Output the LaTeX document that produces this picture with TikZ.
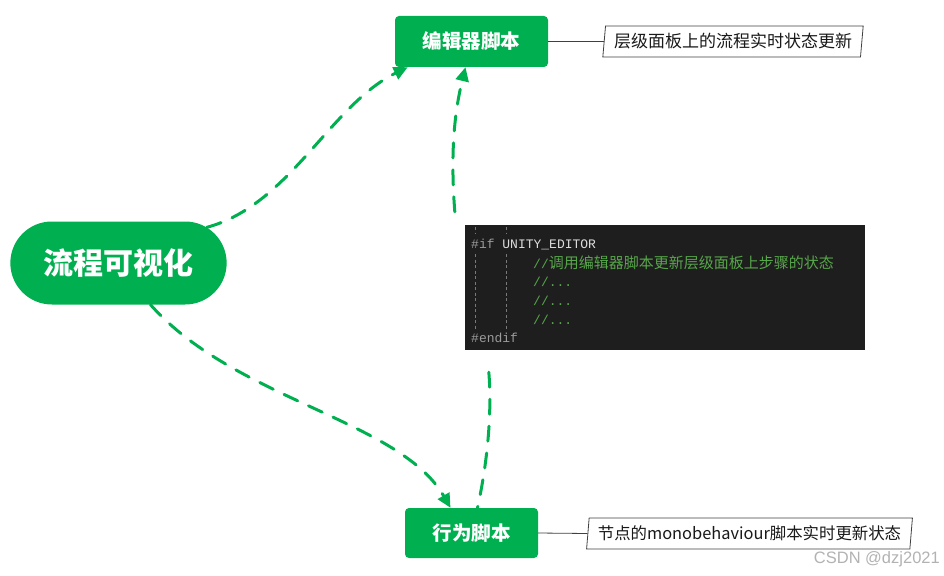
\documentclass[tikz,border=0pt]{standalone}
\usepackage{fontspec}
\usepackage{tikz}
\usetikzlibrary{arrows.meta,shapes.misc,shapes.geometric}
\newfontfamily\cjk{Noto Sans CJK SC}
\newfontfamily\monofnt{Liberation Mono}
\newfontfamily\markfnt{Liberation Sans}
\definecolor{mapgreen}{HTML}{00B050}
\definecolor{edge}{HTML}{404040}
\definecolor{codebg}{HTML}{1E1E1E}
\definecolor{kwgray}{HTML}{9B9B9B}
\definecolor{symwhite}{HTML}{DCDCDC}
\definecolor{cmtgreen}{HTML}{57A64A}
\definecolor{guidegray}{HTML}{7A7A7A}
\newcommand{\fsz}[1]{\fontsize{#1}{#1}\selectfont}
\tikzset{
  topic/.style  = {rounded rectangle, fill=mapgreen, text=white, font=\cjk\bfseries\fsz{30}},
  sub/.style    = {rectangle, rounded corners=4pt, fill=mapgreen, text=white, font=\cjk\bfseries\fsz{19.5}},
  tag/.style    = {trapezium, trapezium left angle=81, trapezium right angle=99, trapezium stretches=true,
                   draw=edge, line width=0.8pt, fill=white, minimum height=31pt, font=\cjk\fsz{17},
                   text=black!90, inner sep=0pt},
  link/.style   = {dash pattern=on 15pt off 12pt, line width=3pt, draw=mapgreen, line cap=round},
  tip/.style    = {-{Triangle[length=14pt,width=13pt]}},
  tie/.style    = {line width=0.8pt, draw=edge},
  codeln/.style = {anchor=west, inner sep=0pt, font=\monofnt\fsz{13}},
  guide/.style  = {draw=guidegray, line width=0.8pt, dash pattern=on 3pt off 2.5pt},
}

\begin{document}
\begin{tikzpicture}[x=1pt, y=-1pt]
  \useasboundingbox (0,0) rectangle (944,575);

  %% ---------------- topics ------------------------------------------
  \node[topic, minimum width=223pt, minimum height=83pt] (core) at (118.5,263) {流程可视化};
  \node[sub, minimum width=153pt, minimum height=51pt] (editor) at (471.5,41.5) {编辑器脚本};
  \node[sub, minimum width=133pt, minimum height=50pt] (behav) at (471.5,533) {行为脚本};

  %% ---------------- notes -------------------------------------------
  \node[tag, minimum width=261pt] (ednote) at (733,41.5) {层级面板上的流程实时状态更新};
  \node[tag, minimum width=327pt, font=\cjk\fsz{16.4}] (bhnote) at (749.5,533.5) {节点的monobehaviour脚本实时更新状态};
  \draw[tie] (editor.east) -- (ednote.west);
  \draw[tie] (behav.east) -- (bhnote.west);

  %% ---------------- code snippet ------------------------------------
  \node[fill=codebg, minimum width=400pt, minimum height=125pt, inner sep=0pt] (code) at (665,287.5) {};
  \foreach \gx in {475,506} {
    \draw[guide] (\gx,227) -- (\gx,234);
    \draw[guide] (\gx,254) -- (\gx,330); }
  \node[codeln, text=kwgray] (ifln) at (471,244) {\#if \textcolor{symwhite}{UNITY\_EDITOR}};
  \node[codeln, text=cmtgreen] (cm1) at (533,263) {//{\cjk\fsz{15}调用编辑器脚本更新层级面板上步骤的状态}};
  \node[codeln, text=cmtgreen] (cm2) at (533,282) {//...};
  \node[codeln, text=cmtgreen] (cm3) at (533,301) {//...};
  \node[codeln, text=cmtgreen] (cm4) at (533,320) {//...};
  \node[codeln, text=kwgray] (endln) at (471,338) {\#endif};

  %% ---------------- connectors --------------------------------------
  \draw[link, tip] (core.22) .. controls (290,205) and (330,105) .. ([xshift=13pt]editor.south west);
  \draw[link, tip] ([xshift=-10pt,yshift=13pt]code.north west)
    .. controls (450,150) and (455,110) .. ([xshift=-6pt]editor.south);
  \draw[link, tip] ([xshift=32pt]core.south) .. controls (235,400) and (400,420) .. ([xshift=-21pt]behav.north);
  \draw[link] ([xshift=24pt,yshift=-22pt]code.south west) .. controls (492,410) and (488,460) .. ([xshift=6pt]behav.north);

  \node[anchor=east, inner sep=0pt, text=black!30, font=\markfnt\fsz{16.5}] (mark) at (940,559) {CSDN @dzj2021};
\end{tikzpicture}
\end{document}
